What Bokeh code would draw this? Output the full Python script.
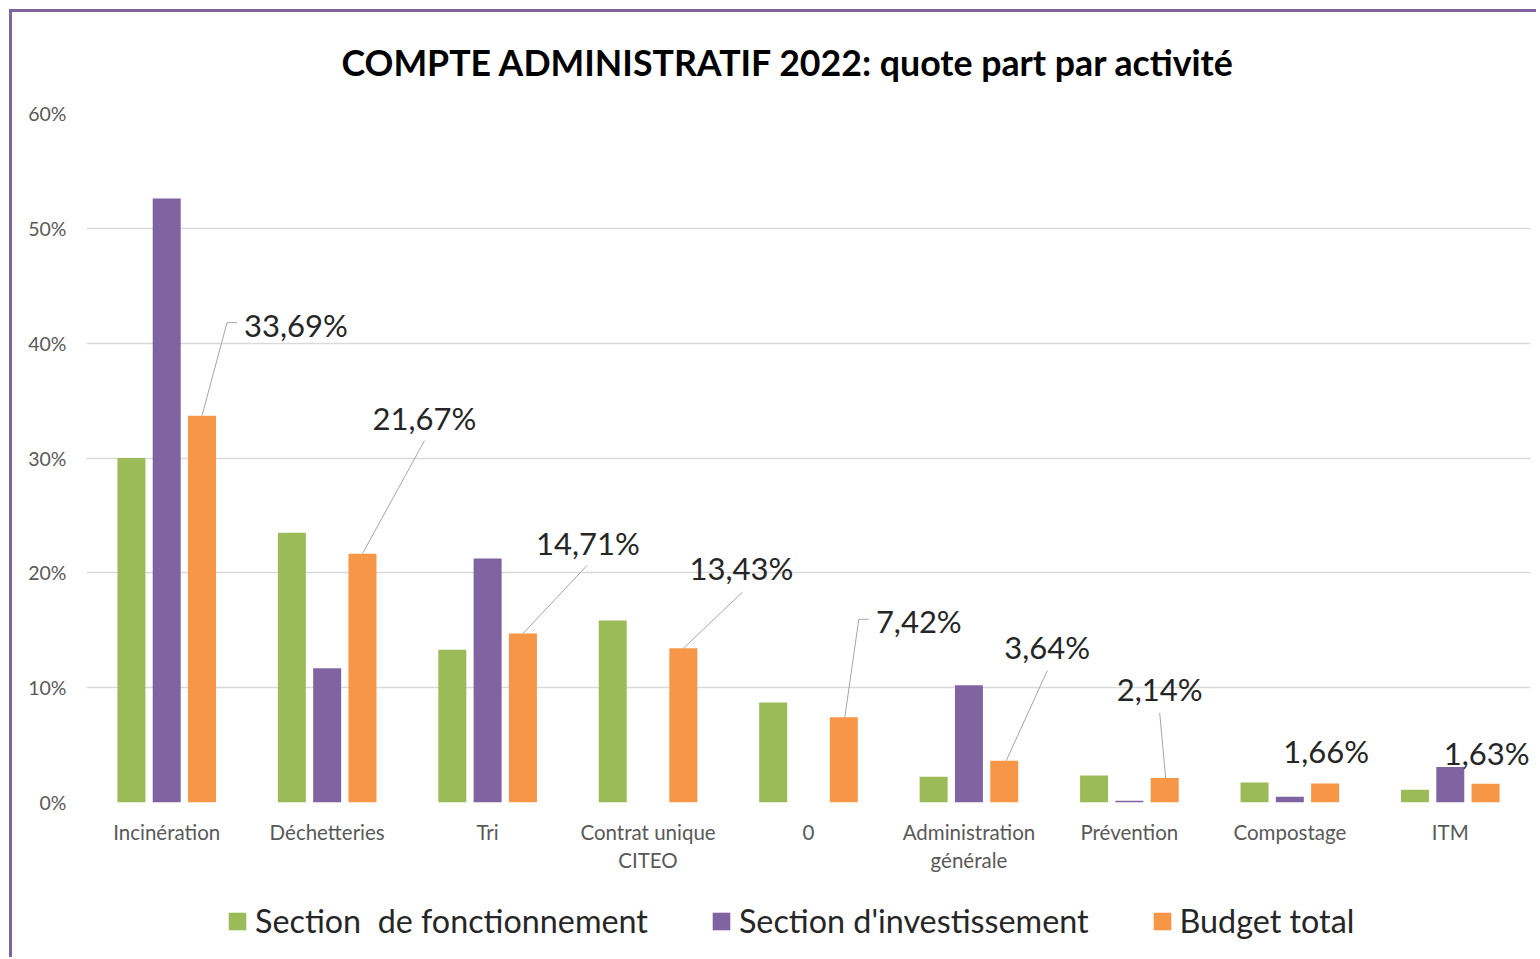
from bokeh.plotting import figure
from bokeh.layouts import column
from bokeh.models import (Range1d, FixedTicker, ColumnDataSource, Legend, LegendItem, Title)
from bokeh.core.properties import value
from bokeh.embed import file_html
from bokeh.resources import INLINE

# ---------------- data ----------------
categories = ["Incinération", "Déchetteries", "Tri", "Contrat unique\nCITEO", "0",
              "Administration\ngénérale", "Prévention", "Compostage", "ITM"]
series_names = ["Section  de fonctionnement", "Section d'investissement", "Budget total"]
fonctionnement = [30.0, 23.5, 13.3, 15.85, 8.7, 2.25, 2.35, 1.75, 1.1]
investissement = [52.6, 11.7, 21.25, 0.0, 0.0, 10.2, 0.15, 0.5, 3.1]
budget_total = [33.69, 21.67, 14.71, 13.43, 7.42, 3.64, 2.14, 1.66, 1.63]
budget_labels = ["33,69%", "21,67%", "14,71%", "13,43%", "7,42%", "3,64%", "2,14%", "1,66%", "1,63%"]
y_ticks = [0, 10, 20, 30, 40, 50, 60]
y_tick_labels = ["0%", "10%", "20%", "30%", "40%", "50%", "60%"]
title_text = "COMPTE ADMINISTRATIF 2022: quote part par activité"

# ---------------- style / layout ----------------
colors = ["#9BBB59", "#8064A2", "#F79646"]
FONT = "Lato"
FRAME_W, FRAME_H = 1444, 689
LEFT, RIGHT, TOP, BOTTOM = 74, 6, 99, 85
TOTAL_W = LEFT + FRAME_W + RIGHT
Y_MAX = 60
n = len(categories)
px_x = FRAME_W / n          # px per category unit
px_y = FRAME_H / Y_MAX      # px per percent
bar_w = 28 / px_x
offs = [-35.3 / px_x, 0.0, 35.3 / px_x]

# label placement: text centre offset (px) from top of orange bar, and leader polyline (px offsets)
label_off = [(94, -91), (62, -136), (65, -91), (58, -80), (75, -96),
             (43, -114), (-5, -89), (1, -32), (1, -31)]
leaders = [[(35, -93), (25, -93), (0, 0)],
           [(62, -113), (0, 0)],
           [(64, -68), (0, 0)],
           [(59, -56), (0, 0)],
           [(25, -98), (15, -98), (1, 0)],
           [(43, -90), (2, 0)],
           [(-5, -65), (1, 0)],
           [],
           []]

p = figure(frame_width=FRAME_W, frame_height=FRAME_H, output_backend="svg", toolbar_location=None,
           x_range=Range1d(0, n), y_range=Range1d(0, Y_MAX),
           min_border_left=LEFT, min_border_right=RIGHT,
           min_border_top=TOP, min_border_bottom=BOTTOM,
           tools="")
p.title = None
p.outline_line_color = None
p.background_fill_color = "white"
p.border_fill_color = "white"

# title, top-aligned in its box so that the standoff lifts it away from the frame
p.add_layout(Title(text=title_text, align="left", offset=255, vertical_align="top", standoff=56,
                   text_font=FONT, text_font_style="bold", text_font_size="35.7px",
                   text_color="#000000"), "above")

# bars
renderers = []
for k, (vals, col) in enumerate(zip([fonctionnement, investissement, budget_total], colors)):
    src = ColumnDataSource(dict(x=[i + 0.5 + offs[k] for i in range(n)], top=vals))
    r = p.vbar(x="x", top="top", width=bar_w, bottom=0, source=src,
               fill_color=col, line_color=None)
    renderers.append(r)

# leader lines
xs, ys = [], []
for i in range(n):
    if not leaders[i]:
        continue
    bx = i + 0.5 + offs[2]
    by = budget_total[i]
    xs.append([bx + dx / px_x for dx, dy in leaders[i]])
    ys.append([by - dy / px_y for dx, dy in leaders[i]])
p.multi_line(xs=xs, ys=ys, line_color="#A6A6A6", line_width=1)

# data labels
lab_src = ColumnDataSource(dict(
    x=[i + 0.5 + offs[2] + label_off[i][0] / px_x for i in range(n)],
    y=[budget_total[i] - label_off[i][1] / px_y for i in range(n)],
    t=budget_labels))
p.text(x="x", y="y", text="t", source=lab_src, text_font=value(FONT),
       text_font_size="31px", text_color="#262626", text_align="center",
       text_baseline="middle")

# axes
p.xaxis.ticker = FixedTicker(ticks=[i + 0.5 for i in range(n)])
p.xaxis.major_label_overrides = {i + 0.5: c for i, c in enumerate(categories)}
p.xaxis.axis_line_color = None
p.xaxis.major_tick_line_color = None
p.xaxis.minor_tick_line_color = None
p.xaxis.major_label_standoff = 11
p.xaxis.major_label_text_font = FONT
p.xaxis.major_label_text_font_size = "20.5px"
p.xaxis.major_label_text_color = "#595959"

p.yaxis.ticker = FixedTicker(ticks=y_ticks)
p.yaxis.major_label_overrides = {t: l for t, l in zip(y_ticks, y_tick_labels)}
p.yaxis.axis_line_color = None
p.yaxis.major_tick_line_color = None
p.yaxis.minor_tick_line_color = None
p.yaxis.major_label_standoff = 14
p.yaxis.major_label_text_font = FONT
p.yaxis.major_label_text_font_size = "19.5px"
p.yaxis.major_label_text_color = "#595959"

p.xgrid.grid_line_color = None
p.ygrid.grid_line_color = "#D9D9D9"
p.ygrid.grid_line_width = 1.5

# legend strip (separate figure directly under the chart); its proxy bars lie outside its ranges
lf = figure(frame_width=TOTAL_W, frame_height=70, output_backend="svg", toolbar_location=None,
            x_range=Range1d(0, 1), y_range=Range1d(0, 1), min_border=0, tools="")
lf.axis.visible = False
lf.grid.visible = False
lf.outline_line_color = None
lf.border_fill_color = "white"
leg_rs = []
for col in colors:
    leg_rs.append(lf.vbar(x=[-10], top=[-10], bottom=[-11], width=0.1,
                          fill_color=col, line_color=None))
legend = Legend(items=[LegendItem(label=nm, renderers=[r]) for nm, r in zip(series_names, leg_rs)],
                orientation="horizontal", location=(214, 17))
legend.label_text_font = FONT
legend.label_text_font_size = "32.3px"
legend.label_text_color = "#262626"
legend.glyph_width = 22
legend.glyph_height = 22
legend.label_standoff = 7
legend.spacing = 62
legend.border_line_color = None
legend.background_fill_alpha = 0
legend.margin = 0
legend.padding = 0
lf.add_layout(legend, "center")

layout = column(p, lf, spacing=0)
layout.styles = {"margin-left": "9px", "margin-top": "9px",
                 "border-left": "3px solid #8064A2", "border-top": "3px solid #8064A2"}

open("out.html", "w").write(file_html(layout, INLINE))
